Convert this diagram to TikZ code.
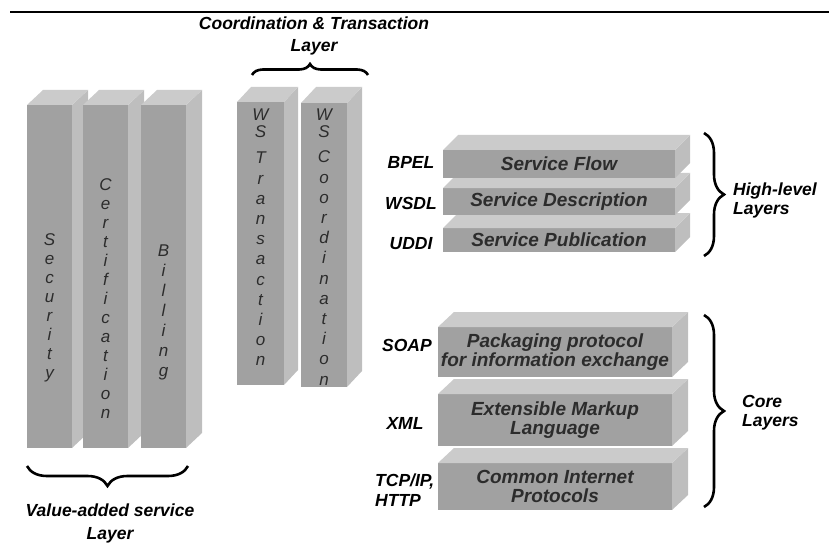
\documentclass[tikz,border=0pt]{standalone}
\usepackage{fontspec}
\setmainfont{Liberation Sans}
\usetikzlibrary{decorations.pathreplacing}

\definecolor{frontgray}{HTML}{A1A1A1}
\definecolor{topgray}{HTML}{CBCBCB}
\definecolor{sidegray}{HTML}{BEBEBE}
\definecolor{inkgray}{HTML}{2C2C2C}

% 3D block: name, left x, top y, width, height, depth dx, depth dy
\newcommand\blockthreed[7]{%
  \node[frontface, anchor=north west, minimum width=#4pt, minimum height=#5pt] (#1) at (#2,#3) {};
  \fill[sidegray] (#1.north east) -- ++(#6,-#7) -- ++(0,#5) -- (#1.south east) -- cycle;
  \fill[topgray] (#1.north west) -- ++(#6,-#7) -- ++(#4,0) -- (#1.north east) -- cycle;
}

\begin{document}
\begin{tikzpicture}[x=1pt,y=-1pt,
  frontface/.style={fill=frontgray, draw=none, inner sep=0pt, outer sep=0pt, rectangle},
  lbl/.style={font=\fontsize{17.5}{20}\selectfont\bfseries\itshape, inner sep=0pt, align=center},
  boxtxt/.style={font=\fontsize{19}{19}\selectfont\bfseries\itshape, text=inkgray, inner sep=0pt, align=center},
  vtxt/.style={font=\fontsize{17}{19}\selectfont\itshape, text=inkgray, inner sep=0pt, align=center},
  vtxtw/.style={font=\fontsize{17}{20.2}\selectfont\itshape, text=inkgray, inner sep=0pt, align=center},
  brc/.style={decorate, decoration={brace, amplitude=#1}, line width=2.6pt},
]
\useasboundingbox (0,0) rectangle (829,548);

% rule across the top
\coordinate (ruleL) at (10,12);
\coordinate (ruleR) at (829,12);
\draw[line width=1.5pt] (ruleL) -- (ruleR);

% value-added service pillars
\blockthreed{sec}{27}{105}{45}{343}{16}{15}
\blockthreed{cert}{83}{105}{45}{343}{16}{15}
\blockthreed{bill}{141}{105}{45}{343}{16}{15}
\node[vtxt] (secT) at (49.5,308) {S\\e\\c\\u\\r\\i\\t\\y};
\node[vtxt] (certT) at (105.5,299) {C\\e\\r\\t\\i\\f\\i\\c\\a\\t\\i\\o\\n};
\node[vtxt, font=\fontsize{17}{20}\selectfont\itshape] (billT) at (163.5,312) {B\\i\\l\\l\\i\\n\\g};

% coordination and transaction pillars
\blockthreed{wst}{237}{102}{47}{283}{14}{15}
\blockthreed{wsc}{301}{103}{46}{284}{15}{16}
\node[vtxt, font=\fontsize{17}{17}\selectfont\itshape] (wstA) at (260.5,123) {W\\S};
\node[vtxtw] (wstB) at (260.5,259) {T\\r\\a\\n\\s\\a\\c\\t\\i\\o\\n};
\node[vtxt, font=\fontsize{17}{17}\selectfont\itshape] (wscA) at (324,123) {W\\S};
\node[vtxtw] (wscB) at (324,268) {C\\o\\o\\r\\d\\i\\n\\a\\t\\i\\o\\n};

% high-level layers
\blockthreed{pub}{443}{228}{232}{24}{15}{15}
\blockthreed{desc}{443}{188}{232}{27}{15}{15}
\blockthreed{flow}{443}{150}{232}{28}{15}{15}
\node[boxtxt] (flowT) at (flow.center) {Service Flow};
\node[boxtxt] (descT) at (desc.center) {Service Description};
\node[boxtxt] (pubT) at (pub.center) {Service Publication};

% core layers
\blockthreed{tcp}{438}{463}{234}{47}{16}{15}
\blockthreed{xml}{438}{394}{234}{52}{16}{15}
\blockthreed{soap}{438}{327}{234}{50}{16}{15}
\node[boxtxt] (soapT) at (soap.center) {Packaging protocol\\for information exchange};
\node[boxtxt] (xmlT) at (xml.center) {Extensible Markup\\Language};
\node[boxtxt] (tcpT) at (tcp.center) {Common Internet\\Protocols};

% technology labels
\node[lbl] (bpel) at (411,162) {BPEL};
\node[lbl] (wsdl) at (411,203) {WSDL};
\node[lbl] (uddi) at (411,244) {UDDI};
\node[lbl] (soapL) at (407,345) {SOAP};
\node[lbl] (xmlL) at (405,423) {XML};
\node[lbl, align=left, anchor=west] (tcpL) at (375,490) {TCP/IP,\\HTTP};

% braces and group captions
\coordinate (wsbL) at (252,75);
\coordinate (wsbR) at (368,75);
\draw[brc=11] (wsbL) -- (wsbR);
\node[lbl, font=\fontsize{17.5}{22}\selectfont\bfseries\itshape] (coordCap) at (314,36) {Coordination \& Transaction\\Layer};

\coordinate (vabL) at (27,466);
\coordinate (vabR) at (188,466);
\draw[brc=20] (vabR) -- (vabL);
\node[lbl, font=\fontsize{17.5}{23}\selectfont\bfseries\itshape] (vaCap) at (110,523) {Value-added service\\Layer};

\coordinate (hlbT) at (704,133);
\coordinate (hlbB) at (704,256);
\draw[brc=20] (hlbT) -- (hlbB);
\node[lbl, align=left, anchor=west, font=\fontsize{17.5}{19}\selectfont\bfseries\itshape] (hlCap) at (733,200) {High-level\\Layers};

\coordinate (cbT) at (704,315);
\coordinate (cbB) at (704,507);
\draw[brc=20] (cbT) -- (cbB);
\node[lbl, align=left, anchor=west, font=\fontsize{17.5}{19}\selectfont\bfseries\itshape] (coreCap) at (742,413) {Core\\Layers};
\end{tikzpicture}
\end{document}
